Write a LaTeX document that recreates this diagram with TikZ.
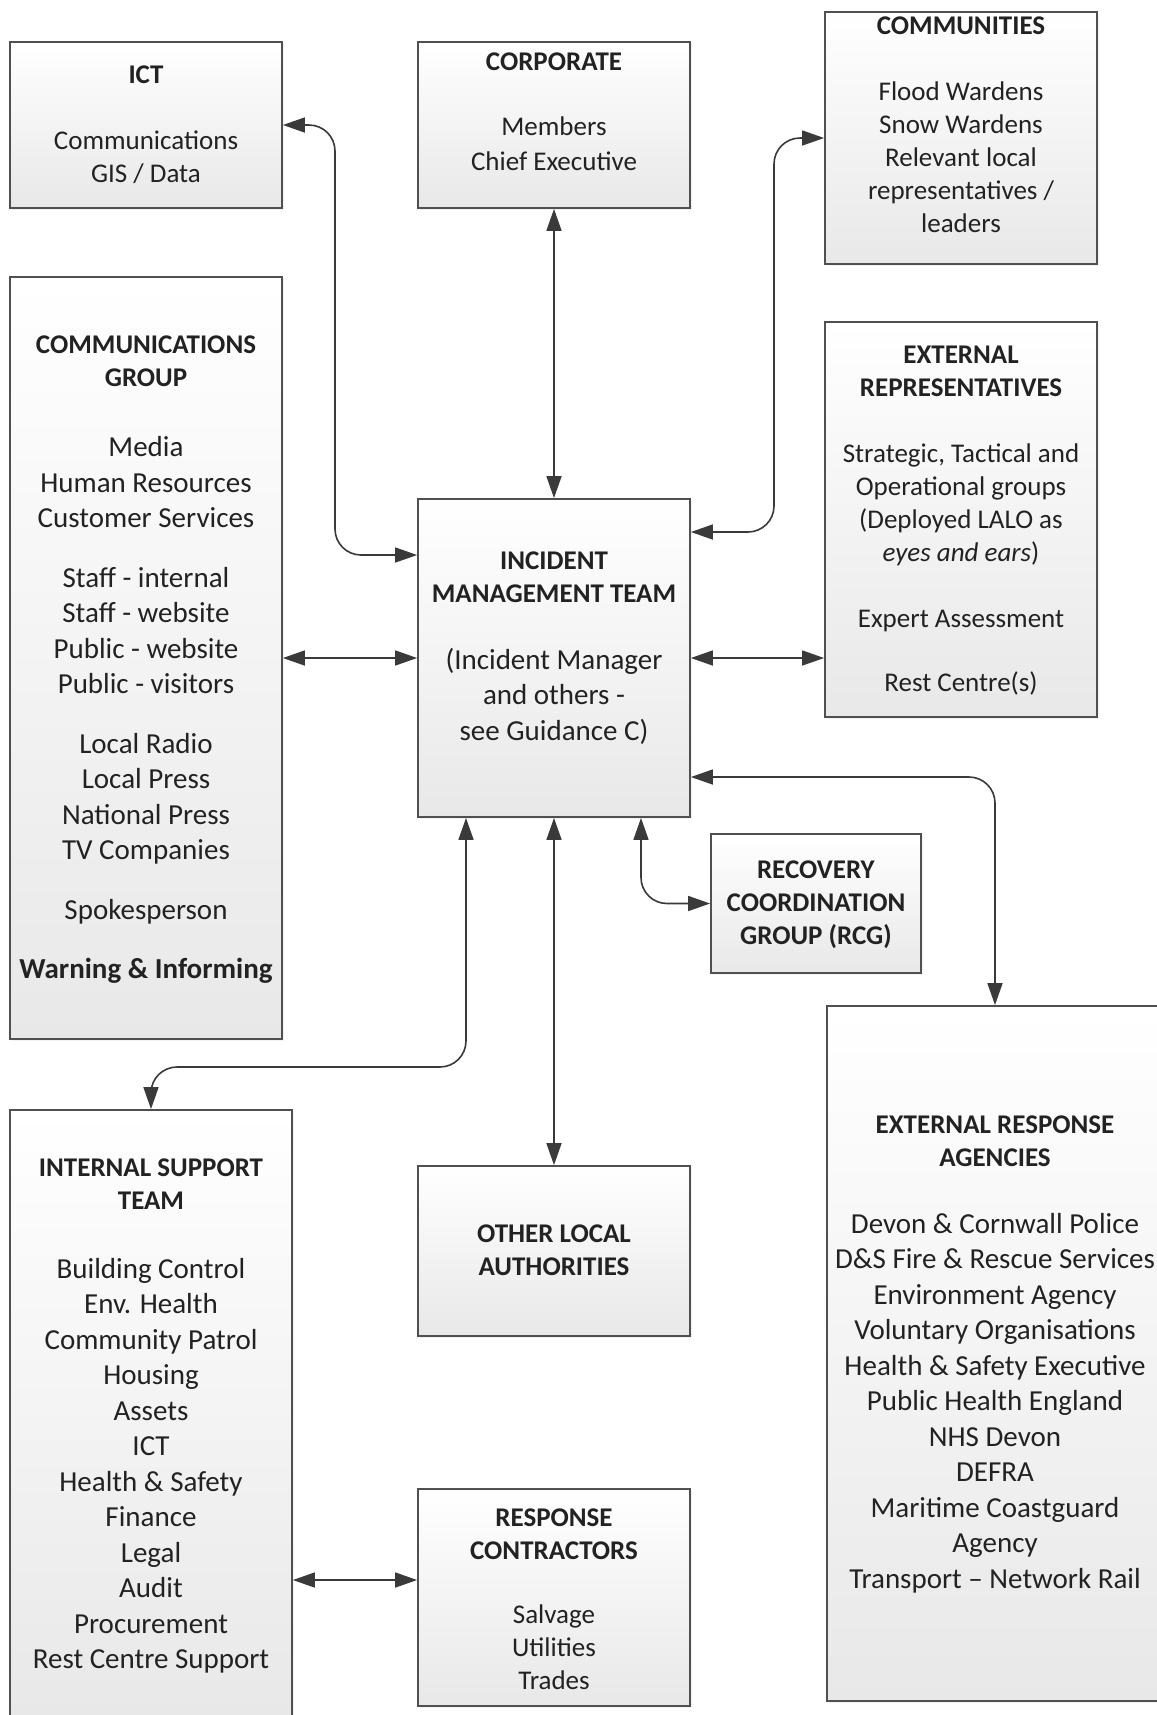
\documentclass[tikz,border=0pt]{standalone}
\usepackage{fontspec}
\setmainfont{Carlito}
\usetikzlibrary{arrows.meta,shadows,calc}
\definecolor{lineC}{HTML}{3A3A3A}
\definecolor{boxline}{HTML}{505050}
\definecolor{txtC}{HTML}{222222}
\newcommand\fsS{\fontsize{13.5pt}{16.5pt}\selectfont}
\newcommand\fsL{\fontsize{14.5pt}{17.75pt}\selectfont}
\tikzset{
  box/.style={rectangle, draw=boxline, line width=0.9pt, top color=white, bottom color=black!9,
    drop shadow={shadow xshift=1.2pt, shadow yshift=-1.2pt, opacity=0.10}, inner sep=0pt},
  txt/.style={align=center, text=txtC, inner sep=0pt},
  conn/.style={draw=lineC, line width=0.8pt, rounded corners=13pt,
    {Triangle[length=11pt,width=7.5pt]}-{Triangle[length=11pt,width=7.5pt]}},
}
\begin{document}
\begin{tikzpicture}[x=0.5pt,y=-0.5pt]
\useasboundingbox[fill=white] (0,0) rectangle (1157,1715);
\clip (0,0) rectangle (1157,1715);

% boxes
\node[box, minimum width=136pt, minimum height=83pt]    (ict)    at (146,125)    {};
\node[box, minimum width=136pt, minimum height=83pt]    (corp)   at (554,125)    {};
\node[box, minimum width=136pt, minimum height=126pt]   (comm)   at (961,138)    {};
\node[box, minimum width=136pt, minimum height=381pt]   (cg)     at (146,658)    {};
\node[box, minimum width=136pt, minimum height=197.5pt] (extrep) at (961,519.5)  {};
\node[box, minimum width=136pt, minimum height=159pt]   (imt)    at (554,658)    {};
\node[box, minimum width=105pt, minimum height=69.5pt]  (rcg)    at (816,903.5)  {};
\node[box, minimum width=168pt, minimum height=347.5pt] (era)    at (995,1353.5) {};
\node[box, minimum width=141pt, minimum height=303pt]   (ist)    at (151,1413)   {};
\node[box, minimum width=136pt, minimum height=85pt]    (ola)    at (554,1251)   {};
\node[box, minimum width=136pt, minimum height=108.5pt] (rc)     at (554,1597.5) {};

% texts
\node[txt, font=\fsS] (ictT) at (146,125) {\textbf{ICT}\\[16.5pt] Communications\\ GIS / Data};
\node[txt, font=\fsS] (corpT) at (554,112) {\textbf{CORPORATE}\\[16pt] Members\\[1pt] Chief Executive};
\node[txt, font=\fsS] (commT) at (961,125) {\textbf{COMMUNITIES}\\[16.5pt] Flood Wardens\\ Snow Wardens\\ Relevant local\\ representatives /\\ leaders};
\node[txt, font=\fsL] (cgT) at (146,660) {{\fsS\bfseries COMMUNICATIONS}\\[-1.25pt] {\fsS\bfseries GROUP}\\[17.25pt]
  Media\\ Human Resources\\ Customer Services\\[12pt]
  Staff - internal\\ Staff - website\\ Public - website\\ Public - visitors\\[12pt]
  Local Radio\\ Local Press\\ National Press\\ TV Companies\\[12pt]
  Spokesperson\\[12pt] \textbf{Warning \& Informing}};
\node[txt, font=\fsS] (extrepT) at (961,521) {\textbf{EXTERNAL}\\ \textbf{REPRESENTATIVES}\\[16.5pt]
  Strategic, Tactical and\\ Operational groups\\ (Deployed LALO as\\ \textit{eyes and ears})\\[16.5pt]
  Expert Assessment\\[15.5pt] Rest Centre(s)};
\node[txt, font=\fsL] (imtT) at (554,648) {{\fsS\bfseries INCIDENT}\\[-1.25pt] {\fsS\bfseries MANAGEMENT TEAM}\\[15.75pt]
  (Incident Manager\\ and others -\\ see Guidance C)};
\node[txt, font=\fsS] (rcgT) at (816,905) {\textbf{RECOVERY}\\ \textbf{COORDINATION}\\ \textbf{GROUP (RCG)}};
\node[txt, font=\fsL] (eraT) at (995,1354) {{\fsS\bfseries EXTERNAL RESPONSE}\\[-1.25pt] {\fsS\bfseries AGENCIES}\\[15.75pt]
  Devon \& Cornwall Police\\ D\&S Fire \& Rescue Services\\ Environment Agency\\ Voluntary Organisations\\
  Health \& Safety Executive\\ Public Health England\\ NHS Devon\\ DEFRA\\ Maritime Coastguard\\ Agency\\
  Transport – Network Rail};
\node[txt, font=\fsL] (istT) at (151,1416) {{\fsS\bfseries INTERNAL SUPPORT}\\[-1.25pt] {\fsS\bfseries TEAM}\\[16.75pt]
  Building Control\\ Env. Health\\ Community Patrol\\ Housing\\ Assets\\ ICT\\ Health \& Safety\\
  Finance\\ Legal\\ Audit\\ Procurement\\ Rest Centre Support};
\node[txt, font=\fsS] (olaT) at (554,1250.5) {\textbf{OTHER LOCAL}\\ \textbf{AUTHORITIES}};
\node[txt, font=\fsS] (rcT) at (554,1599) {\textbf{RESPONSE}\\ \textbf{CONTRACTORS}\\[15.5pt] Salvage\\ Utilities\\ Trades};

% connectors
\draw[conn] (ict.east) -| (335,555) -- (imt.west |- 0,555);
\draw[conn] (corp.south) -- (imt.north);
\draw[conn] (imt.east |- 0,532) -| (774,138) -- (comm.west);
\draw[conn] (cg.east) -- (imt.west);
\draw[conn] (imt.east) -- (extrep.west |- imt.east);
\draw[conn] (imt.east |- 0,777) -| (era.north);
\draw[conn] (imt.south -| 641,0) |- (rcg.west);
\draw[conn] (imt.south -| 466,0) -- (466,1067) -| (ist.north);
\draw[conn] (imt.south) -- (ola.north);
\draw[conn] (ist.east |- 0,1580) -- (rc.west |- 0,1580);
\end{tikzpicture}
\end{document}
